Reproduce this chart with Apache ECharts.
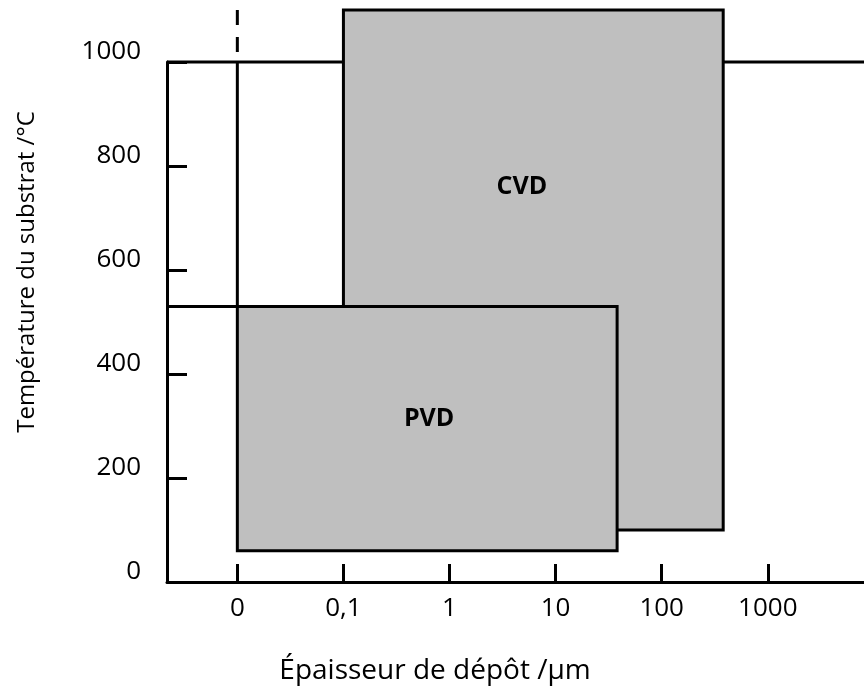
<!DOCTYPE html>
<html><head><meta charset="utf-8">
<script src="https://cdn.jsdelivr.net/npm/echarts@6/dist/echarts.min.js"></script>
<style>html,body{margin:0;padding:0;background:#fff}#c{width:864px;height:688px}</style>
</head><body><div id="c"></div>
<script>
// ---- data ----
const xTickValues = [0, 0.1, 1, 10, 100, 1000];          // thickness, µm
const xTickLabels = ['0', '0,1', '1', '10', '100', '1000'];
const yTickValues = [0, 200, 400, 600, 800, 1000];       // °C
const yTickLabels = ['0', '200', '400', '600', '800', '1000'];
const processNames = ['CVD', 'PVD'];
const thicknessMin = [0.1, 0];      // µm
const thicknessMax = [380, 38];     // µm
const tempMin = [100, 60];          // °C
const tempMax = [1100, 530];        // °C
const frameTemp = 1000;             // upper bound line, °C
const xTitle = 'Épaisseur de dépôt /µm';
const yTitle = 'Température du substrat /°C';

// position on the (0 + log) thickness axis
function pos(v) { return v === 0 ? 0 : Math.log10(v) + 2; }

const X_MIN = -0.663, X_MAX = 5.907;
const FONT = '"Open Sans", "DejaVu Sans", sans-serif';
const labelPlace = { CVD: [0.47, 0.34], PVD: [0.505, 0.46] };

const rectData = processNames.map((n, i) =>
  [pos(thicknessMin[i]), pos(thicknessMax[i]), tempMin[i], tempMax[i], n]);

const lineStyle = { color: '#000', width: 3, cap: 'butt' };
function seg(data, z, dashed) {
  return {
    type: 'line', data: data, symbol: 'none', silent: true, clip: false,
    animation: false, z: z,
    lineStyle: Object.assign({}, lineStyle, dashed ? { type: [15, 12] } : {})
  };
}

const chart = echarts.init(document.getElementById('c'), null, { renderer: 'canvas' });
chart.setOption({
  animation: false,
  backgroundColor: '#fff',
  grid: { left: 167, right: 0, top: 62, bottom: 106, containLabel: false },
  xAxis: {
    type: 'value', min: X_MIN, max: X_MAX,
    axisLine: { show: true, onZero: false, lineStyle: { color: '#000', width: 3 } },
    axisTick: { show: true, inside: true, length: 18, lineStyle: { color: '#000', width: 3 },
      customValues: xTickValues.map(pos) },
    axisLabel: { show: true, margin: 14, color: '#000', fontSize: 26, fontFamily: FONT,
      customValues: xTickValues.map(pos),
      formatter: function (v) {
        const i = xTickValues.map(pos).findIndex(p => Math.abs(p - v) < 1e-6);
        return i >= 0 ? xTickLabels[i] : '';
      } },
    splitLine: { show: false }
  },
  yAxis: {
    type: 'value', min: 0, max: 1000, interval: 200,
    axisLine: { show: true, onZero: false, lineStyle: { color: '#000', width: 3 } },
    axisTick: { show: true, inside: true, length: 20, lineStyle: { color: '#000', width: 3 },
      customValues: yTickValues },
    axisLabel: { show: true, margin: 26, color: '#000', fontSize: 26, fontFamily: FONT,
      customValues: yTickValues, verticalAlign: 'bottom', lineHeight: 20,
      formatter: function (v) {
        const i = yTickValues.indexOf(v);
        return i >= 0 ? yTickLabels[i] : '';
      } },
    splitLine: { show: false }
  },
  graphic: [
    { type: 'text', x: 435, y: 671, silent: true,
      style: { text: xTitle, font: '28px ' + FONT, fill: '#000',
        align: 'center', verticalAlign: 'middle', textAlign: 'center', textVerticalAlign: 'middle' } },
    { type: 'text', x: 27, y: 272, rotation: Math.PI / 2, silent: true,
      style: { text: yTitle, font: '24px ' + FONT, fill: '#000',
        align: 'center', verticalAlign: 'middle', textAlign: 'center', textVerticalAlign: 'middle' } }
  ],
  series: [
    // full-width upper frame line at 1000 °C (under the boxes)
    seg([[X_MIN, frameTemp], [X_MAX, frameTemp]], 1, false),
    {
      type: 'custom', z: 2, clip: false, silent: true, animation: false,
      data: rectData,
      renderItem: function (params, api) {
        const p0 = api.coord([api.value(0), api.value(3)]);
        const p1 = api.coord([api.value(1), api.value(2)]);
        const name = processNames[params.dataIndex];
        const f = labelPlace[name];
        const w = p1[0] - p0[0], h = p1[1] - p0[1];
        return {
          type: 'group',
          children: [
            { type: 'rect', shape: { x: p0[0], y: p0[1], width: w, height: h },
              style: { fill: '#bfbfbf', stroke: '#000', lineWidth: 3 } },
            { type: 'text', x: p0[0] + w * f[0], y: p0[1] + h * f[1],
              style: { text: name, font: 'bold 25px ' + FONT, fill: '#000',
                align: 'center', verticalAlign: 'middle', textAlign: 'center', textVerticalAlign: 'middle' } }
          ]
        };
      }
    },
    // vertical line at 0 from the frame down to the PVD box
    seg([[pos(0), frameTemp], [pos(0), tempMax[1]]], 3, false),
    // PVD top extended to the temperature axis
    seg([[X_MIN, tempMax[1]], [pos(0), tempMax[1]]], 3, false),
    // dashed continuation above the frame
    seg([[pos(0), tempMax[0]], [pos(0), frameTemp]], 3, true)
  ]
});
</script>
</body></html>
